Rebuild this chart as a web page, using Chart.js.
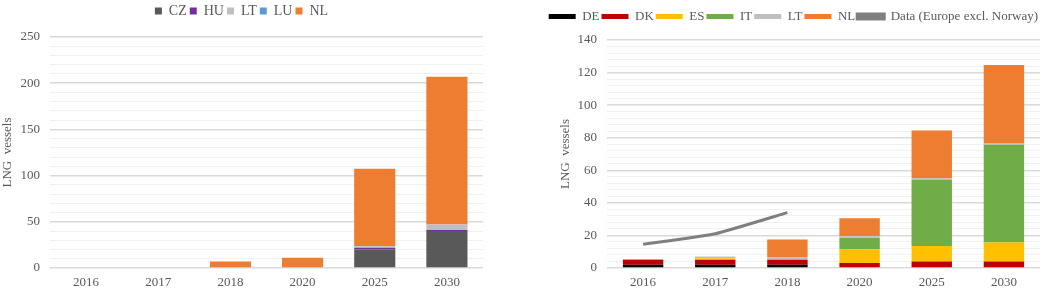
<!DOCTYPE html>
<html lang="en">

<head>
  <meta charset="UTF-8" />
  <title>LNG vessels</title>
  <script src="https://cdn.jsdelivr.net/npm/chart.js"></script>
  <style>
    body { margin: 0; background: #fff; }
    .wrap { position: relative; width: 1045px; height: 292px; }
    .box { position: absolute; top: 0; height: 292px; }
  </style>
</head>

<body>
  <div class="wrap">
    <div class="box" style="left:0; width:484px;"><canvas id="leftChart"></canvas></div>
    <div class="box" style="left:525px; width:520px;"><canvas id="rightChart"></canvas></div>
  </div>

  <script>
    const years = ['2016', '2017', '2018', '2020', '2025', '2030'];

    // left panel
    const czLeft = [0, 0, 0, 0, 20, 40];
    const huLeft = [0, 0, 0, 0, 2, 1];
    const ltLeft = [0, 0, 0, 0, 1.5, 6];
    const luLeft = [0, 0, 0, 0, 0, 0];
    const nlLeft = [0, 0, 7, 11, 84, 160];
    const leftTicks = [0, 50, 100, 150, 200, 250];

    // right panel
    const deRight = [2, 2, 2, 0, 0, 0];
    const dkRight = [3, 3, 3, 3, 4, 4];
    const esRight = [0, 1, 0, 8.5, 9.5, 11.7];
    const itRight = [0, 0, 0, 7, 40.5, 60];
    const ltRight = [0.5, 1, 1.5, 1, 1, 1];
    const nlRight = [0, 0, 11, 11, 29.5, 48];
    const europeData = [14.5, 21, 34, null, null, null];
    const rightTicks = [0, 20, 40, 60, 80, 100, 120, 140];

    const serif = 'Liberation Serif';
    const tickGrey = '#595959';

    // extra space under the legend
    function legendGap(extra) {
      return {
        id: 'legendGap',
        beforeInit(chart) {
          const fit = chart.legend.fit;
          chart.legend.fit = function () {
            fit.call(this);
            this.height += extra;
          };
        }
      };
    }

    function yAxis(max, step, labels, width, titlePad) {
      return {
        stacked: true,
        min: 0,
        max: max,
        border: { display: false },
        grid: {
          drawTicks: false,
          color: c => labels.includes(c.tick.value) ? '#d9d9d9' : '#f0f0f0',
          lineWidth: c => labels.includes(c.tick.value) ? 1.5 : 1
        },
        ticks: {
          stepSize: step,
          autoSkip: false,
          padding: 10,
          color: tickGrey,
          font: { family: serif, size: 13 },
          callback: v => labels.includes(v) ? v : ''
        },
        title: {
          display: true,
          text: 'LNG  vessels',
          color: tickGrey,
          font: { family: serif, size: 13 },
          padding: { top: titlePad, bottom: 0 }
        },
        afterFit: s => { s.width = width; }
      };
    }

    const xAxis = {
      stacked: true,
      grid: { display: false, drawTicks: false },
      border: { display: false },
      ticks: {
        color: tickGrey,
        padding: 7,
        font: { family: serif, size: 13 }
      },
      afterFit: s => { s.height = 24; }
    };

    function bar(label, data, color) {
      return { label: label, data: data, backgroundColor: color, borderWidth: 0, stack: 's' };
    }

    new Chart(document.getElementById('leftChart'), {
      type: 'bar',
      data: {
        labels: years,
        datasets: [
          bar('CZ', czLeft, '#595959'),
          bar('HU', huLeft, '#7030a0'),
          bar('LT', ltLeft, '#bfbfbf'),
          bar('LU', luLeft, '#5b9bd5'),
          bar('NL', nlLeft, '#ed7d31')
        ]
      },
      options: {
        responsive: true,
        maintainAspectRatio: false,
        animation: false,
        categoryPercentage: 0.57,
        barPercentage: 1,
        layout: { padding: { right: 1, top: 1 } },
        plugins: {
          tooltip: { enabled: false },
          legend: {
            position: 'top',
            labels: {
              boxWidth: 7,
              boxHeight: 7,
              padding: 3,
              color: tickGrey,
              font: { family: serif, size: 14 }
            }
          }
        },
        scales: { x: xAxis, y: yAxis(250, 10, leftTicks, 50, 0) }
      },
      plugins: [legendGap(9)]
    });

    new Chart(document.getElementById('rightChart'), {
      type: 'bar',
      data: {
        labels: years,
        datasets: [
          bar('DE', deRight, '#000000'),
          bar('DK', dkRight, '#c00000'),
          bar('ES', esRight, '#ffc000'),
          bar('IT', itRight, '#70ad47'),
          bar('LT', ltRight, '#bfbfbf'),
          bar('NL', nlRight, '#ed7d31'),
          {
            type: 'line',
            label: 'Data (Europe excl. Norway)',
            data: europeData,
            borderColor: '#7f7f7f',
            backgroundColor: '#7f7f7f',
            borderWidth: 3,
            pointRadius: 0,
            tension: 0.15,
            stack: 'line'
          }
        ]
      },
      options: {
        responsive: true,
        maintainAspectRatio: false,
        animation: false,
        categoryPercentage: 0.56,
        barPercentage: 1,
        layout: { padding: { right: 5, top: 8 } },
        plugins: {
          tooltip: { enabled: false },
          legend: {
            position: 'top',
            align: 'end',
            labels: {
              boxWidth: 27,
              boxHeight: 5,
              padding: 2,
              color: tickGrey,
              font: { family: serif, size: 13 }
            }
          }
        },
        scales: { x: xAxis, y: yAxis(140, 4, rightTicks, 82, 33) }
      },
      plugins: [legendGap(7)]
    });
  </script>
</body>

</html>
